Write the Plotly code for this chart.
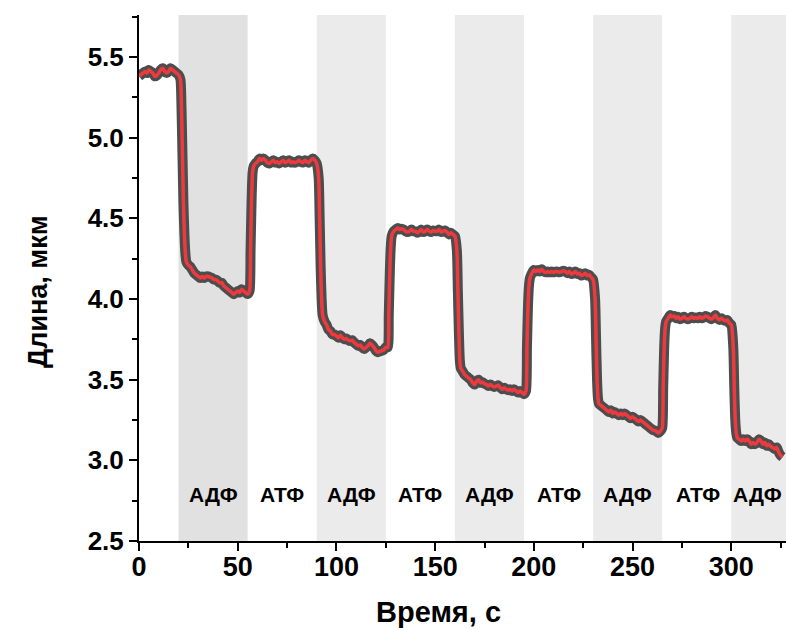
import plotly.graph_objects as go

# Time (s) and fibre length (µm)
time_s = [
    0, 1, 2, 3, 4, 5, 6, 7, 8, 9, 10, 11, 12, 13, 14, 15, 16, 17, 18, 19, 20, 21,
    21.5, 22, 22.5, 23, 23.5, 24, 25, 26, 27, 28, 29, 30, 31, 32, 33, 34, 35, 36, 37,
    38, 39, 40, 41, 42, 43, 44, 45, 46, 47, 48, 49, 50, 51, 52, 53, 54, 55, 56,
    56.5, 57, 57.5, 58, 59, 60, 61, 62, 63, 64, 65, 66, 67, 68, 69, 70, 71, 72, 73,
    74, 75, 76, 77, 78, 79, 80, 81, 82, 83, 84, 85, 86, 87, 88, 89, 90,
    91, 91.5, 92, 92.5, 93, 94, 95, 96, 97, 98, 99, 100, 101, 102, 103, 104, 105,
    106, 107, 108, 109, 110, 111, 112, 113, 114, 115, 116, 117, 118, 119, 120, 121,
    122, 123, 124, 125, 126,
    126.5, 127, 127.5, 128, 129, 130, 131, 132, 133, 134, 135, 136, 137, 138, 139,
    140, 141, 142, 143, 144, 145, 146, 147, 148, 149, 150, 151, 152, 153, 154, 155,
    156, 157, 158, 159, 160,
    161, 161.5, 162, 162.5, 163, 164, 165, 166, 167, 168, 169, 170, 171, 172, 173,
    174, 175, 176, 177, 178, 179, 180, 181, 182, 183, 184, 185, 186, 187, 188, 189,
    190, 191, 192, 193, 194, 195, 196,
    196.5, 197, 197.5, 198, 199, 200, 201, 202, 203, 204, 205, 206, 207, 208, 209,
    210, 211, 212, 213, 214, 215, 216, 217, 218, 219, 220, 221, 222, 223, 224, 225,
    226, 227, 228, 229, 230,
    231, 231.5, 232, 232.5, 233, 234, 235, 236, 237, 238, 239, 240, 241, 242, 243,
    244, 245, 246, 247, 248, 249, 250, 251, 252, 253, 254, 255, 256, 257, 258, 259,
    260, 261, 262, 263, 264, 265,
    265.5, 266, 266.5, 267, 268, 269, 270, 271, 272, 273, 274, 275, 276, 277, 278,
    279, 280, 281, 282, 283, 284, 285, 286, 287, 288, 289, 290, 291, 292, 293, 294,
    295, 296, 297, 298, 299, 300,
    301, 301.5, 302, 302.5, 303, 304, 305, 306, 307, 308, 309, 310, 311, 312, 313,
    314, 315, 316, 317, 318, 319, 320, 321, 322, 323, 324, 325, 326,
]
length_um = [
    5.38, 5.39, 5.40, 5.41, 5.40, 5.42, 5.41, 5.40, 5.38, 5.385, 5.40, 5.42, 5.43, 5.41, 5.40, 5.41, 5.43, 5.42, 5.41, 5.40, 5.39, 5.36,
    5.20, 4.90, 4.60, 4.40, 4.28, 4.23, 4.21, 4.20, 4.18, 4.16, 4.15, 4.14, 4.13, 4.14, 4.13, 4.14, 4.14, 4.135, 4.13,
    4.12, 4.12, 4.11, 4.10, 4.10, 4.08, 4.07, 4.06, 4.05, 4.04, 4.03, 4.04, 4.05, 4.04, 4.06, 4.05, 4.04, 4.03, 4.05,
    4.30, 4.60, 4.78, 4.82, 4.84, 4.85, 4.87, 4.86, 4.87, 4.86, 4.845, 4.84, 4.85, 4.86, 4.845, 4.85, 4.84, 4.85, 4.86,
    4.845, 4.85, 4.86, 4.845, 4.85, 4.845, 4.85, 4.86, 4.85, 4.845, 4.86, 4.85, 4.845, 4.86, 4.87, 4.86, 4.84,
    4.75, 4.50, 4.20, 4.00, 3.90, 3.86, 3.84, 3.81, 3.80, 3.78, 3.78, 3.77, 3.76, 3.775, 3.76, 3.75, 3.755,
    3.745, 3.74, 3.745, 3.73, 3.72, 3.71, 3.715, 3.70, 3.69, 3.70, 3.71, 3.725, 3.715, 3.70, 3.68, 3.67,
    3.675, 3.68, 3.685, 3.70, 3.70,
    3.90, 4.15, 4.32, 4.39, 4.42, 4.43, 4.44, 4.43, 4.435, 4.43, 4.42, 4.415, 4.42, 4.43, 4.42,
    4.42, 4.41, 4.42, 4.43, 4.415, 4.42, 4.43, 4.42, 4.415, 4.425, 4.42, 4.42, 4.43, 4.415, 4.42, 4.425,
    4.415, 4.40, 4.41, 4.40, 4.39,
    4.30, 4.05, 3.80, 3.62, 3.57, 3.55, 3.53, 3.52, 3.51, 3.50, 3.48, 3.47, 3.49, 3.50, 3.48,
    3.485, 3.475, 3.47, 3.46, 3.47, 3.46, 3.455, 3.46, 3.465, 3.45, 3.44, 3.45, 3.44, 3.435, 3.44, 3.43,
    3.44, 3.43, 3.42, 3.43, 3.42, 3.41, 3.43,
    3.70, 3.95, 4.08, 4.13, 4.16, 4.18, 4.17, 4.18, 4.17, 4.185, 4.17, 4.165, 4.17, 4.165, 4.17,
    4.165, 4.17, 4.17, 4.165, 4.17, 4.175, 4.17, 4.16, 4.17, 4.155, 4.16, 4.17, 4.155, 4.16, 4.145, 4.15,
    4.16, 4.145, 4.15, 4.135, 4.12,
    4.00, 3.75, 3.50, 3.38, 3.35, 3.34, 3.33, 3.32, 3.31, 3.30, 3.31, 3.29, 3.30, 3.29, 3.28,
    3.29, 3.28, 3.29, 3.28, 3.27, 3.26, 3.27, 3.26, 3.25, 3.24, 3.25, 3.24, 3.23, 3.22, 3.21, 3.20,
    3.19, 3.185, 3.18, 3.17, 3.18, 3.20,
    3.45, 3.70, 3.82, 3.86, 3.88, 3.90, 3.89, 3.895, 3.88, 3.89, 3.875, 3.88, 3.89, 3.88, 3.875,
    3.88, 3.89, 3.88, 3.885, 3.88, 3.89, 3.88, 3.885, 3.895, 3.89, 3.88, 3.875, 3.885, 3.90, 3.88, 3.87,
    3.88, 3.87, 3.865, 3.87, 3.85, 3.84,
    3.70, 3.45, 3.25, 3.17, 3.14, 3.13, 3.12, 3.13, 3.12, 3.13, 3.12, 3.10, 3.11, 3.10, 3.11,
    3.13, 3.12, 3.10, 3.11, 3.09, 3.10, 3.085, 3.08, 3.07, 3.08, 3.05, 3.03, 3.02,
]

# Solution phases: start/end of each interval and its label
phase_start = [20, 55, 90, 125, 160, 195, 230, 265, 300]
phase_end = [55, 90, 125, 160, 195, 230, 265, 300, 327.7]
phase_label = ["АДФ", "АТФ", "АДФ", "АТФ", "АДФ", "АТФ", "АДФ", "АТФ", "АДФ"]
phase_fill = ["#e1e1e1", None, "#ebebeb", None, "#ebebeb", None, "#ebebeb", None, "#ebebeb"]
label_x = [37.5, 72.5, 107.5, 142.5, 177.5, 212.5, 247.5, 283, 313.5]
label_y = 2.79

x_range = [0, 327.7]
y_range = [2.5, 5.76]

font_main = "Liberation Sans"

fig = go.Figure()

# Dark outline under a thin red trace
fig.add_trace(go.Scatter(x=time_s, y=length_um, mode="lines",
                         line=dict(color="#4d4d4d", width=10, shape="spline", smoothing=0.6),
                         hoverinfo="skip"))
fig.add_trace(go.Scatter(x=time_s, y=length_um, mode="lines",
                         line=dict(color="#ee3a3f", width=3.5, shape="spline", smoothing=0.6)))

shapes = []
annotations = []
for s, e, fill in zip(phase_start, phase_end, phase_fill):
    if fill:
        shapes.append(dict(type="rect", xref="x", yref="paper", x0=s, x1=e, y0=0, y1=1,
                           fillcolor=fill, line=dict(width=0), layer="below"))
for lx, lab in zip(label_x, phase_label):
    annotations.append(dict(x=lx, y=label_y, xref="x", yref="y", text=lab, showarrow=False,
                            font=dict(family=font_main, size=21, color="black", weight="bold")))

annotations.append(dict(text="Время, с", xref="paper", yref="paper", x=(438 - 139) / 647,
                        y=-(612 - 541) / 526, showarrow=False, xanchor="center", yanchor="middle",
                        font=dict(family=font_main, size=29, color="black", weight="bold")))
annotations.append(dict(text="Длина, мкм", xref="paper", yref="paper", x=-(139 - 38) / 647,
                        y=(541 - 292) / 526, showarrow=False, textangle=-90,
                        xanchor="center", yanchor="middle",
                        font=dict(family=font_main, size=27, color="black", weight="bold")))

fig.update_layout(
    width=786, height=630,
    margin=dict(l=139, r=0, t=15, b=89),
    paper_bgcolor="white", plot_bgcolor="white",
    showlegend=False,
    shapes=shapes,
    annotations=annotations,
    xaxis=dict(range=x_range, tickvals=[0, 50, 100, 150, 200, 250, 300],
               showgrid=False, zeroline=False, showline=True, linecolor="black", linewidth=2,
               ticks="outside", ticklen=8, tickwidth=2, tickcolor="black",
               ticklabelstandoff=-7,
               minor=dict(ticks="outside", ticklen=5, tickwidth=1.5, tickcolor="black",
                          tickvals=[25, 75, 125, 175, 225, 275, 325]),
               tickfont=dict(family=font_main, size=27, color="black", weight="bold")),
    yaxis=dict(range=y_range, tickvals=[2.5, 3.0, 3.5, 4.0, 4.5, 5.0, 5.5],
               ticktext=["2.5", "3.0", "3.5", "4.0", "4.5", "5.0", "5.5"],
               showgrid=False, zeroline=False, showline=True, linecolor="black", linewidth=2,
               ticks="outside", ticklen=8, tickwidth=2, tickcolor="black",
               minor=dict(ticks="outside", ticklen=5, tickwidth=1.5, tickcolor="black",
                          tickvals=[2.75, 3.25, 3.75, 4.25, 4.75, 5.25, 5.75]),
               tickfont=dict(family=font_main, size=26, color="black", weight="bold")),
)

fig.write_html("out.html")
